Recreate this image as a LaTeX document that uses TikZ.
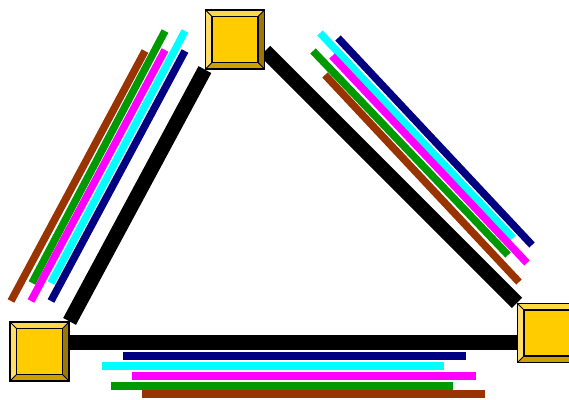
\documentclass[tikz,border=0pt]{standalone}
\usetikzlibrary{calc,backgrounds}
\definecolor{swface}{HTML}{FFCC00}
\definecolor{swlight}{HTML}{FFDD66}
\definecolor{swdark}{HTML}{CCA000}
\definecolor{swshade}{HTML}{9C7800}
\definecolor{lnbrown}{HTML}{993300}
\definecolor{lngreen}{HTML}{009900}
\definecolor{lnnavy}{HTML}{000080}
\definecolor{lncyan}{HTML}{00FFFF}
\definecolor{lnmagenta}{HTML}{FF00FF}

\begin{document}
\begin{tikzpicture}[x=1pt,y=1pt,
  switch/.style={draw,line width=1.2pt,fill=swface,minimum size=59pt,inner sep=0pt,
    path picture={
      \begin{scope}[shift={(path picture bounding box.center)}]
        \fill[swlight] (-30,30) -- (-23,23) -- (-23,-23) -- (-30,-30) -- cycle;
        \fill[swlight!70!swface] (-30,30) -- (30,30) -- (23,23) -- (-23,23) -- cycle;
        \fill[swdark] (-30,-30) -- (-23,-23) -- (23,-23) -- (30,-30) -- cycle;
        \fill[swshade] (30,30) -- (23,23) -- (23,-23) -- (30,-30) -- cycle;
        \draw[line width=1.2pt] (-23,-23) rectangle (23,23);
        \draw[line width=0.8pt] (-30,30) -- (-23,23) (30,30) -- (23,23) (-30,-30) -- (-23,-23) (30,-30) -- (23,-23);
      \end{scope}}},
  trunk/.style={line width=14.5pt,black},
  lambda/.style={line width=7.5pt}]
\useasboundingbox (0,0) rectangle (569,399);

\node[switch] (top) at (235,359.5) {};
\node[switch] (bl) at (39.5,47.5) {};
\node[switch] (rt) at (547,66) {};

\begin{scope}[on background layer]
% fibre links
\draw[trunk] (top.south west) -- (bl.north east);
\draw[trunk] (top.-21) -- (rt.north west);
\coordinate (m) at ($(bl.east)!.5!(rt.west)$);
\draw[trunk] (bl.east |- m) -- (rt.west |- m);
\end{scope}

% wavelengths, left link
\draw[lambda,lnbrown] (11,98) -- (145,348);
\draw[lambda,lngreen] (32,116) -- (165,368);
\draw[lambda,lnmagenta] (31,98) -- (165,349);
\draw[lambda,lncyan] (51,116) -- (185,368);
\draw[lambda,lnnavy] (51,98) -- (185,348);
% wavelengths, right link
\draw[lambda,lncyan] (320,366) -- (513,161);
\draw[lambda,lnnavy] (338,361) -- (532,154);
\draw[lambda,lngreen] (313,348) -- (508,144);
\draw[lambda,lnmagenta] (332,343) -- (527,136);
\draw[lambda,lnbrown] (325,324) -- (519,117);
% wavelengths, bottom link
\draw[lambda,lnnavy] (123,43) -- (466,43);
\draw[lambda,lncyan] (102,33) -- (444,33);
\draw[lambda,lnmagenta] (132,23) -- (476,23);
\draw[lambda,lngreen] (111,13) -- (453,13);
\draw[lambda,lnbrown] (142,5) -- (485,5);
\end{tikzpicture}
\end{document}
